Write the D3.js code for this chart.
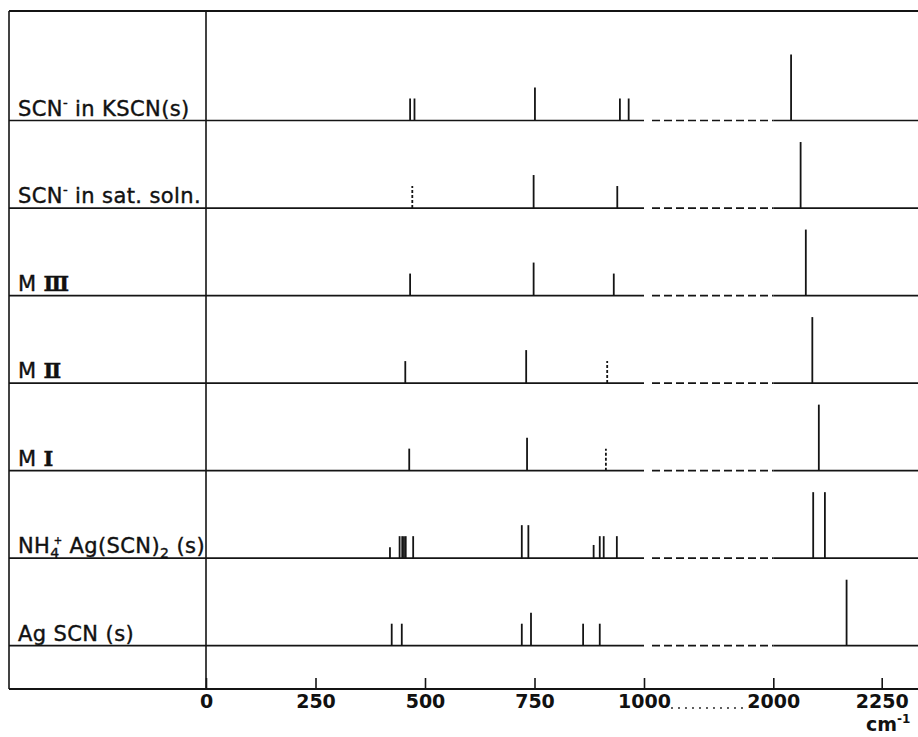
<!DOCTYPE html>
<html>
<head>
<meta charset="utf-8">
<script src="https://cdn.jsdelivr.net/npm/d3@7"></script>
<style>
  body { margin: 0; background: #fff; }
  svg { display: block; }
  .row-label { font-family: "DejaVu Sans", sans-serif; font-size: 21px; letter-spacing: 0.4px; fill: #111; stroke: #111; stroke-width: 0.4px; }
  .tick text { font-family: "DejaVu Sans", sans-serif; font-size: 19px; font-weight: bold; fill: #111; }
  .unit { font-family: "DejaVu Sans", sans-serif; font-size: 19px; font-weight: bold; fill: #111; }
</style>
</head>
<body>
<script>

const WIDTH = 918;
const HEIGHT = 737;

// sample names, split into [text, kind] pieces (kind: sub / sup / roman)
const sampleLabels = [
  [["SCN"], ["-", "sup"], [" in KSCN(s)"]],
  [["SCN"], ["-", "sup"], [" in sat. soln."]],
  [["M "], ["Ⅲ", "roman"]],
  [["M "], ["Ⅱ", "roman"]],
  [["M "], ["Ⅰ", "roman"]],
  [["NH"], ["4", "sub"], ["+", "sup"], [" Ag(SCN)"], ["2", "sub"], [" (s)"]],
  [["Ag SCN (s)"]]
];

// Raman lines per sample: [wavenumber cm-1, relative intensity, weak/uncertain]
const kscnSolid   = [[466, 2], [476, 2], [751, 3], [945, 2], [965, 2], [2041, 6]];
const kscnSoln    = [[471, 2, true], [748, 3], [939, 2], [2063, 6]];
const melt3       = [[466, 2], [748, 3], [931, 2], [2075, 6]];
const melt2       = [[455, 2], [731, 3], [916, 2, true], [2090, 6]];
const melt1       = [[464, 2], [733, 3], [913, 2, true], [2105, 6]];
const nh4Ag       = [[420, 1], [442, 2], [448, 2], [452, 2], [456, 2], [473, 2],
                     [721, 3], [736, 3], [885, 1.2], [899, 2], [908, 2], [938, 2],
                     [2092, 6], [2119, 6]];
const agScn       = [[424, 2], [447, 2], [721, 2], [742, 3], [861, 2], [899, 2], [2169, 6]];

const spectra = [kscnSolid, kscnSoln, melt3, melt2, melt1, nh4Ag, agScn];

const tickValues = [0, 250, 500, 750, 1000, 2000, 2250];
const breakRange = [1000, 2000];

const LEFT = 9, TOP = 11, AXIS_Y = 689;

let svg = d3.select("body")
            .append("svg")
            .attr("width", WIDTH)
            .attr("height", HEIGHT);

// broken wavenumber axis: 0-1000 and 2000-2250 share the same step
let x = d3.scaleLinear()
          .domain([0, 1000, 2000, 2250])
          .range([206, 644, 773.3, 881.7]);

let row = d3.scalePoint()
            .domain(d3.range(spectra.length))
            .range([120.5, 645.7]);

let h = d3.scaleLinear().domain([0, 6]).range([0, 66]);

const ink = "#141414";

// frame
svg.append("line")
   .attr("x1", LEFT).attr("x2", WIDTH).attr("y1", TOP).attr("y2", TOP)
   .attr("stroke", ink).attr("stroke-width", 2);
svg.append("line")
   .attr("x1", LEFT).attr("x2", LEFT).attr("y1", TOP).attr("y2", AXIS_Y)
   .attr("stroke", ink).attr("stroke-width", 1.6);
svg.append("line")
   .attr("x1", x(0)).attr("x2", x(0)).attr("y1", TOP).attr("y2", AXIS_Y)
   .attr("stroke", ink).attr("stroke-width", 1.6);

// row baselines, dashed across the break
let rows = svg.selectAll("g.row")
              .data(spectra).enter()
              .append("g")
              .attr("class", "row")
              .attr("transform", (d, i) => `translate(0,${row(i)})`);

rows.append("line")
    .attr("x1", LEFT).attr("x2", x(breakRange[0]))
    .attr("stroke", ink).attr("stroke-width", 1.7);
rows.append("line")
    .attr("x1", x(breakRange[0]) + 8).attr("x2", x(breakRange[1]))
    .attr("stroke", ink).attr("stroke-width", 1.7)
    .attr("stroke-dasharray", "8,4");
rows.append("line")
    .attr("x1", x(breakRange[1])).attr("x2", WIDTH)
    .attr("stroke", ink).attr("stroke-width", 1.7);

// stick spectra
rows.selectAll("line.peak")
    .data(d => d).enter()
    .append("line")
    .attr("class", "peak")
    .attr("x1", d => x(d[0])).attr("x2", d => x(d[0]))
    .attr("y1", 0).attr("y2", d => -h(d[1]))
    .attr("stroke", ink)
    .attr("stroke-width", 1.8)
    .attr("stroke-dasharray", d => d[2] ? "3,2" : null);

// sample labels
let label = rows.append("text")
                .attr("class", "row-label")
                .attr("x", 18)
                .attr("y", -5);

label.each(function(_, i) {
  let t = d3.select(this);
  let shift = 0;
  sampleLabels[i].forEach(([txt, kind]) => {
    let s = t.append("tspan").text(txt);
    let dy = shift;
    if (kind === "sup") { s.attr("font-size", 13); dy -= 9; shift = 9; }
    else if (kind === "sub") { s.attr("font-size", 14); dy += 5; shift = -5; }
    else shift = 0;
    if (kind === "roman") s.attr("font-family", "DejaVu Serif").attr("font-weight", "bold");
    // the ammonium charge sits over its subscript
    if (kind === "sup" && txt === "+") s.attr("dx", -6).attr("font-size", 10);
    if (dy) s.attr("dy", dy);
  });
});

// bottom axis, ticks pointing up
let axis = d3.axisBottom(x)
             .tickValues(tickValues)
             .tickFormat(d3.format("d"))
             .tickSizeInner(-11)
             .tickSizeOuter(0)
             .tickPadding(6);

let gAxis = svg.append("g")
               .attr("transform", `translate(0,${AXIS_Y})`)
               .call(axis);
gAxis.select(".domain").remove();
gAxis.selectAll(".tick line").attr("stroke", ink).attr("stroke-width", 1.6);

svg.append("line")
   .attr("x1", LEFT).attr("x2", WIDTH).attr("y1", AXIS_Y).attr("y2", AXIS_Y)
   .attr("stroke", ink).attr("stroke-width", 2);

// dotted leader between the two halves of the axis
svg.append("line")
   .attr("x1", x(breakRange[0]) + 28).attr("x2", x(breakRange[1]) - 29)
   .attr("y1", AXIS_Y + 19).attr("y2", AXIS_Y + 19)
   .attr("stroke", ink).attr("stroke-width", 1.8)
   .attr("stroke-linecap", "round")
   .attr("stroke-dasharray", "0,7");

let unit = svg.append("text")
              .attr("class", "unit")
              .attr("x", 866)
              .attr("y", 731);
unit.append("tspan").text("cm");
unit.append("tspan").attr("font-size", 12).attr("dy", -8).text("-1");

</script>
</body>
</html>
